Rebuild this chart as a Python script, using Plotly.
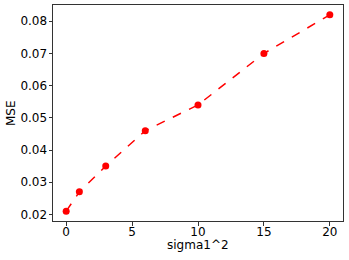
import plotly.graph_objects as go

sigma = [0, 1, 3, 6, 10, 15, 20]
mse = [0.021, 0.027, 0.035, 0.046, 0.054, 0.070, 0.082]
x_ticks = [0, 5, 10, 15, 20]
y_ticks = [0.02, 0.03, 0.04, 0.05, 0.06, 0.07, 0.08]

FONT = dict(family="DejaVu Sans", size=12, color="black")

fig = go.Figure(go.Scatter(
    x=sigma, y=mse, mode="lines+markers",
    line=dict(color="red", width=1.5, dash="dash"),
    marker=dict(color="red", size=7),
    cliponaxis=False,
))

axis_common = dict(
    showline=True, linecolor="#333333", linewidth=1, mirror=True,
    ticks="outside", ticklen=3.5, tickcolor="#333333", tickwidth=1,
    showgrid=False, zeroline=False,
    tickfont=FONT,
)

fig.update_layout(
    width=349, height=260,
    margin=dict(l=53, r=6, t=5, b=39, autoexpand=False),
    paper_bgcolor="white", plot_bgcolor="white",
    showlegend=False,
    font=FONT,
    xaxis=dict(range=[-1, 21], tickvals=x_ticks, ticktext=[str(v) for v in x_ticks],
               ticklabelstandoff=-4, **axis_common),
    yaxis=dict(range=[0.01795, 0.08505], tickvals=y_ticks,
               ticktext=[f"{v:.2f}" for v in y_ticks],
               ticklabelstandoff=-1, **axis_common),
    annotations=[
        dict(text="sigma1^2", xref="paper", yref="paper", x=0.5, y=0,
             xanchor="center", yanchor="middle", yshift=-24, showarrow=False,
             font=FONT),
        dict(text="MSE", xref="paper", yref="paper", x=0, y=0.5,
             xanchor="center", yanchor="middle", xshift=-42, textangle=-90,
             showarrow=False, font=FONT),
    ],
)

fig.write_html("out.html", config={"displayModeBar": False},
               post_script="document.body.style.margin='0';document.body.style.padding='0';")
